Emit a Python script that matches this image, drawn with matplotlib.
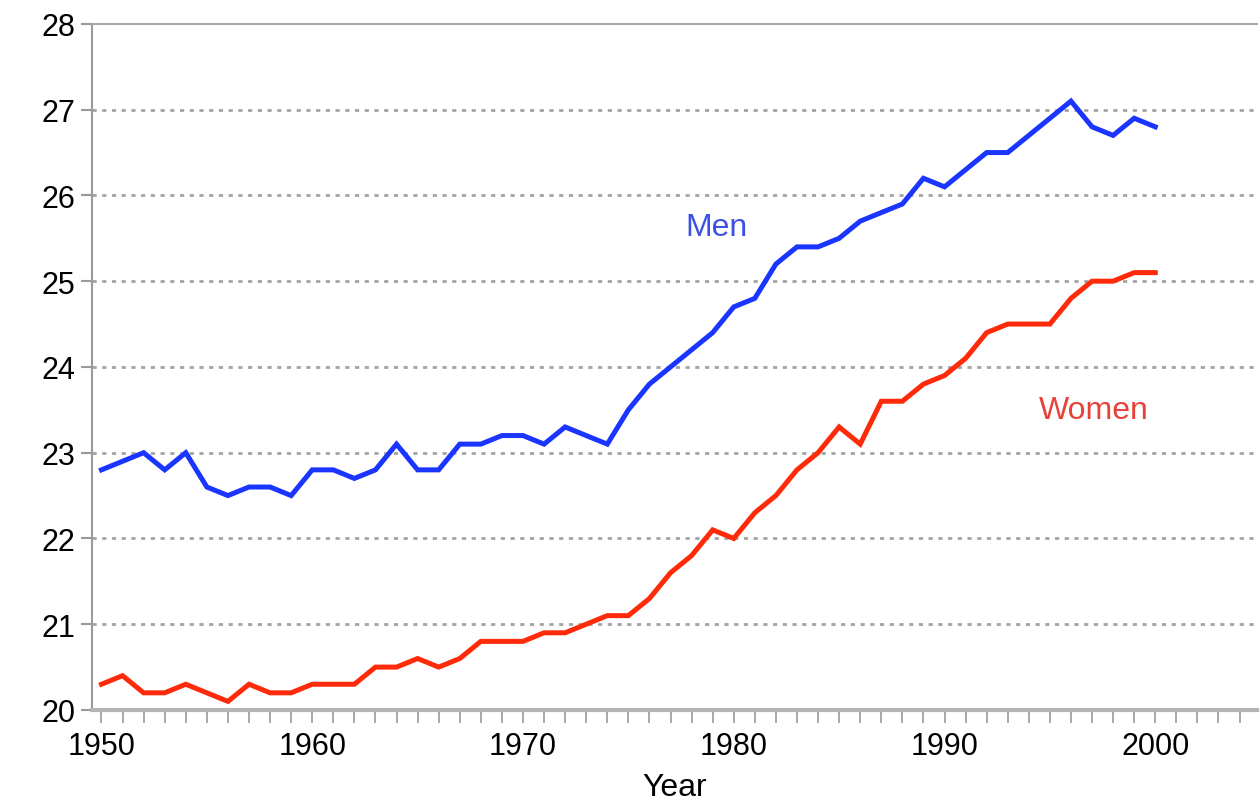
import numpy as np
import matplotlib
matplotlib.use("Agg")
import matplotlib.pyplot as plt
from matplotlib.ticker import MultipleLocator

plt.rcParams['font.family'] = ['Liberation Sans', 'DejaVu Sans']

years = np.arange(1950, 2001)
men = [22.8, 22.9, 23.0, 22.8, 23.0, 22.6, 22.5, 22.6, 22.6, 22.5,
       22.8, 22.8, 22.7, 22.8, 23.1, 22.8, 22.8, 23.1, 23.1, 23.2,
       23.2, 23.1, 23.3, 23.2, 23.1, 23.5, 23.8, 24.0, 24.2, 24.4,
       24.7, 24.8, 25.2, 25.4, 25.4, 25.5, 25.7, 25.8, 25.9, 26.2,
       26.1, 26.3, 26.5, 26.5, 26.7, 26.9, 27.1, 26.8, 26.7, 26.9,
       26.8]
women = [20.3, 20.4, 20.2, 20.2, 20.3, 20.2, 20.1, 20.3, 20.2, 20.2,
         20.3, 20.3, 20.3, 20.5, 20.5, 20.6, 20.5, 20.6, 20.8, 20.8,
         20.8, 20.9, 20.9, 21.0, 21.1, 21.1, 21.3, 21.6, 21.8, 22.1,
         22.0, 22.3, 22.5, 22.8, 23.0, 23.3, 23.1, 23.6, 23.6, 23.8,
         23.9, 24.1, 24.4, 24.5, 24.5, 24.5, 24.8, 25.0, 25.0, 25.1,
         25.1]

fig = plt.figure(figsize=(12.6, 8.04), dpi=100)
ax = fig.add_axes([0.073, 0.1157, 0.925, 0.8533])

ax.plot(years, men, color='#1a35ff', lw=3.6, solid_joinstyle='miter', zorder=3)
ax.plot(years, women, color='#ff2a0a', lw=3.6, solid_joinstyle='miter', zorder=3)

ax.text(1979.2, 25.63, 'Men', color='#3c50e6', fontsize=23, ha='center', va='center')
ax.text(1997.1, 23.5, 'Women', color='#e8403a', fontsize=23, ha='center', va='center')

ax.set_xlim(1949.55, 2004.85)
ax.set_ylim(20, 28)
ax.set_yticks(range(20, 29))
ax.set_xticks(range(1950, 2001, 10))
ax.xaxis.set_minor_locator(MultipleLocator(1))

for y in range(21, 28):
    ax.axhline(y, color='#a4a4a4', lw=2, ls=(0, (1.5, 2)), zorder=1)

ax.spines['right'].set_visible(False)
ax.spines['top'].set_color('#a8a8a8')
ax.spines['top'].set_linewidth(1.5)
ax.spines['left'].set_color('#9a9a9a')
ax.spines['left'].set_linewidth(1.5)
ax.spines['bottom'].set_color('#b4b4b4')
ax.spines['bottom'].set_linewidth(3)

ax.tick_params(axis='x', which='both', direction='out', length=9, width=1.2,
               color='#9a9a9a', labelsize=22, pad=6)
ax.tick_params(axis='y', direction='out', length=8, width=1.5,
               color='#9a9a9a', labelsize=22, pad=4)

ax.set_xlabel('Year', fontsize=23, labelpad=8)

fig.savefig('out.png', dpi=100)
